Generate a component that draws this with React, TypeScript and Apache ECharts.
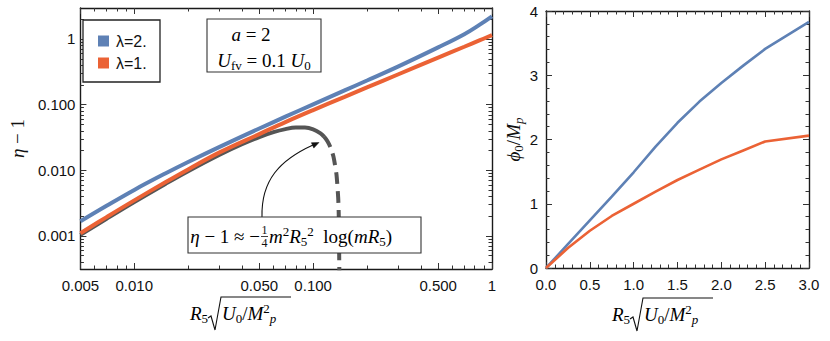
import React, { useEffect, useRef } from "react";
import * as echarts from "echarts";

// ---------- data ----------
const lamX = [0.005, 0.007, 0.01, 0.015, 0.02, 0.03, 0.05, 0.07, 0.1, 0.15, 0.2, 0.3, 0.5, 0.7, 0.85, 1];
const etaLam2 = [0.001675, 0.002884, 0.005035, 0.009023, 0.01339, 0.02277, 0.04335, 0.06556, 0.101, 0.1648, 0.2333, 0.3828, 0.7447, 1.184, 1.642, 2.218];
const etaLam1 = [0.001102, 0.001939, 0.003483, 0.006637, 0.01033, 0.01875, 0.03565, 0.05433, 0.08279, 0.1315, 0.1828, 0.2904, 0.52, 0.762, 0.9506, 1.143];

const approxX = [0.005, 0.007, 0.01, 0.015, 0.02, 0.03, 0.04, 0.05, 0.06, 0.07, 0.08, 0.09, 0.1, 0.11, 0.115];
const approxY = [0.00104, 0.00183, 0.00329, 0.00626, 0.0097, 0.0173, 0.025, 0.0321, 0.0381, 0.0424, 0.0447, 0.0447, 0.0421, 0.0366, 0.0326];
const approxDashX = [0.115, 0.12, 0.125, 0.13, 0.135, 0.138, 0.139, 0.1401];
const approxDashY = [0.0326, 0.028, 0.0224, 0.016, 0.0087, 0.0039, 0.0022, 0.0003];

const phiX = [0, 0.25, 0.5, 0.75, 1, 1.25, 1.5, 1.75, 2, 2.25, 2.5, 3];
const phiLam2 = [0, 0.37, 0.74, 1.11, 1.49, 1.89, 2.26, 2.59, 2.88, 3.15, 3.41, 3.83];
const phiLam1 = [0, 0.31, 0.58, 0.81, 1.0, 1.19, 1.37, 1.53, 1.69, 1.83, 1.97, 2.06];

const logXTicks = [0.005, 0.01, 0.05, 0.1, 0.5, 1];
const logXTickLabels = ["0.005", "0.010", "0.050", "0.100", "0.500", "1"];
const logXMinor = [0.006, 0.007, 0.008, 0.009, 0.02, 0.03, 0.04, 0.06, 0.07, 0.08, 0.09, 0.2, 0.3, 0.4, 0.6, 0.7, 0.8, 0.9];
const logYTicks = [0.001, 0.01, 0.1, 1];
const logYTickLabels = ["0.001", "0.010", "0.100", "1"];
const logYMinor = [0.0004, 0.0005, 0.0006, 0.0007, 0.0008, 0.0009, 0.002, 0.003, 0.004, 0.005, 0.006, 0.007, 0.008, 0.009,
  0.02, 0.03, 0.04, 0.05, 0.06, 0.07, 0.08, 0.09, 0.2, 0.3, 0.4, 0.5, 0.6, 0.7, 0.8, 0.9, 2];

const legendNames = ["λ=2.", "λ=1."];
const BLUE = "#5E81B5";
const ORANGE = "#EB6235";
const GRAY = "#555555";

const SANS = "'Liberation Sans', Arial, sans-serif";
const SERIF = "'Liberation Serif', 'DejaVu Serif', serif";

const FRAME = { color: "#1a1a1a", width: 1.4 };
const TICK = { color: "#333", width: 1 };

const mathRich = (size: number) => ({
  i: { fontFamily: SERIF, fontStyle: "italic", fontSize: size, lineHeight: size + 4, color: "#111" },
  n: { fontFamily: SERIF, fontSize: size, lineHeight: size + 4, color: "#111" },
  s: { fontFamily: SERIF, fontSize: Math.round(size * 0.68), lineHeight: Math.round(size * 0.68), verticalAlign: "bottom", color: "#111" },
  si: { fontFamily: SERIF, fontStyle: "italic", fontSize: Math.round(size * 0.68), lineHeight: Math.round(size * 0.68), verticalAlign: "bottom", color: "#111" },
  t: { fontFamily: SERIF, fontSize: Math.round(size * 0.68), lineHeight: Math.round(size * 0.68), verticalAlign: "top", color: "#111" },
});

function logFormatter(ticks: number[], labels: string[]) {
  return (v: number) => {
    const i = ticks.findIndex((t) => Math.abs(Math.log10(t) - Math.log10(v)) < 1e-6);
    return i >= 0 ? labels[i] : "";
  };
}

function logAxis(gridIndex: number, position: string, min: number, max: number, values: number[], len: number, showLine: boolean, extra: any = {}) {
  return {
    type: "log",
    logBase: 10,
    gridIndex,
    position,
    min,
    max,
    axisLine: { show: showLine, onZero: false, lineStyle: FRAME },
    axisTick: { show: true, inside: true, length: len, customValues: values, lineStyle: TICK },
    axisLabel: { show: false },
    splitLine: { show: false },
    ...extra,
  };
}

function linAxis(gridIndex: number, position: string, min: number, max: number, interval: number, extra: any = {}) {
  return {
    type: "value",
    gridIndex,
    position,
    min,
    max,
    interval,
    axisLine: { show: true, onZero: false, lineStyle: FRAME },
    axisTick: { show: true, inside: true, length: 6, lineStyle: TICK },
    minorTick: { show: true, splitNumber: 5, length: 3.5, lineStyle: TICK },
    axisLabel: { show: false },
    splitLine: { show: false },
    minorSplitLine: { show: false },
    ...extra,
  };
}

function xNameGraphic(x0: number, yc: number) {
  return [
    {
      type: "text", z: 50, x: x0, y: yc,
      style: { text: "{i|R}{s|5}", rich: mathRich(19), align: "left", verticalAlign: "middle" },
    },
    {
      type: "polyline", z: 50,
      shape: { points: [[x0 + 18, yc + 5], [x0 + 21, yc + 3], [x0 + 25, yc + 17], [x0 + 31, yc - 16], [x0 + 101, yc - 16]] },
      style: { stroke: "#111", lineWidth: 1.1, fill: null },
    },
    {
      type: "text", z: 50, x: x0 + 32, y: yc,
      style: { text: "{i|U}{s|0}{n|/}{i|M}{t|2}{si|p}", rich: mathRich(19), align: "left", verticalAlign: "middle" },
    },
  ];
}

export default function App() {
  const ref = useRef<HTMLDivElement>(null);

  useEffect(() => {
    if (!ref.current) return;
    const chart = echarts.init(ref.current, undefined, { renderer: "svg" });

    const yMinL = Math.pow(10, -3.503);
    const yMaxL = Math.pow(10, 0.472);

    const option: any = {
      animation: false,
      backgroundColor: "#ffffff",
      grid: [
        { left: 71, top: 8, width: 421, height: 261, show: false },
        { left: 546, top: 11, width: 263, height: 257, show: false },
      ],
      legend: {
        data: legendNames,
        orient: "vertical",
        left: 98,
        top: 33,
        itemWidth: 11,
        itemHeight: 11,
        itemGap: 6,
        icon: "rect",
        padding: 0,
        z: 10,
        selectedMode: false,
        textStyle: { fontSize: 16, fontFamily: SANS, color: "#111", padding: [0, 0, 0, 2] },
      },
      xAxis: [
        logAxis(0, "bottom", 0.005, 1, logXTicks, 6, true, {
          axisLabel: {
            show: true, customValues: logXTicks, formatter: logFormatter(logXTicks, logXTickLabels),
            fontSize: 15, fontFamily: SANS, color: "#111", margin: 9,
          },
        }),
        logAxis(0, "bottom", 0.005, 1, logXMinor, 3.5, false),
        logAxis(0, "top", 0.005, 1, logXTicks, 6, true),
        logAxis(0, "top", 0.005, 1, logXMinor, 3.5, false),
        linAxis(1, "bottom", 0, 3, 0.5, {
          axisLabel: { show: true, formatter: (v: number) => v.toFixed(1), fontSize: 15, fontFamily: SANS, color: "#111", margin: 9 },
        }),
        linAxis(1, "top", 0, 3, 0.5),
      ],
      yAxis: [
        logAxis(0, "left", yMinL, yMaxL, logYTicks, 6, true, {
          axisLabel: {
            show: true, customValues: logYTicks, formatter: logFormatter(logYTicks, logYTickLabels),
            fontSize: 15, fontFamily: SANS, color: "#111", margin: 5,
          },
          name: "{i|η}{n| − 1}",
          nameLocation: "middle",
          nameGap: 51,
          nameRotate: 90,
          nameTextStyle: { rich: mathRich(19) },
        }),
        logAxis(0, "left", yMinL, yMaxL, logYMinor, 3.5, false),
        logAxis(0, "right", yMinL, yMaxL, logYTicks, 6, true),
        logAxis(0, "right", yMinL, yMaxL, logYMinor, 3.5, false),
        linAxis(1, "left", 0, 4, 1, {
          axisLabel: { show: true, formatter: (v: number) => String(v), fontSize: 15, fontFamily: SANS, color: "#111", margin: 8 },
          name: "{i|ϕ}{s|0}{n|/}{i|M}{si|p}",
          nameLocation: "middle",
          nameGap: 21,
          nameRotate: 90,
          nameTextStyle: { rich: mathRich(19) },
        }),
        linAxis(1, "right", 0, 4, 1),
      ],
      series: [
        {
          type: "line", name: "approx", xAxisIndex: 0, yAxisIndex: 0, showSymbol: false, smooth: 0.4,
          data: approxX.map((x, i) => [x, approxY[i]]),
          lineStyle: { color: GRAY, width: 4 }, itemStyle: { color: GRAY }, z: 2,
        },
        {
          type: "line", name: "approxDash", xAxisIndex: 0, yAxisIndex: 0, showSymbol: false, smooth: 0.2,
          data: approxDashX.map((x, i) => [x, approxDashY[i]]),
          lineStyle: { color: GRAY, width: 4, type: [12, 7] }, itemStyle: { color: GRAY }, z: 2,
        },
        {
          type: "line", name: legendNames[0], xAxisIndex: 0, yAxisIndex: 0, showSymbol: false, smooth: 0.4,
          data: lamX.map((x, i) => [x, etaLam2[i]]),
          lineStyle: { color: BLUE, width: 4 }, itemStyle: { color: BLUE }, z: 3,
        },
        {
          type: "line", name: legendNames[1], xAxisIndex: 0, yAxisIndex: 0, showSymbol: false, smooth: 0.4,
          data: lamX.map((x, i) => [x, etaLam1[i]]),
          lineStyle: { color: ORANGE, width: 4 }, itemStyle: { color: ORANGE }, z: 3,
        },
        {
          type: "line", name: legendNames[0], xAxisIndex: 4, yAxisIndex: 4, showSymbol: false, smooth: false,
          data: phiX.map((x, i) => [x, phiLam2[i]]),
          lineStyle: { color: BLUE, width: 2.6 }, itemStyle: { color: BLUE }, z: 3,
        },
        {
          type: "line", name: legendNames[1], xAxisIndex: 4, yAxisIndex: 4, showSymbol: false, smooth: false,
          data: phiX.map((x, i) => [x, phiLam1[i]]),
          lineStyle: { color: ORANGE, width: 2.6 }, itemStyle: { color: ORANGE }, z: 3,
        },
      ],
      graphic: [
        // legend frame
        { type: "rect", z: 1, shape: { x: 83, y: 20, width: 77, height: 62 }, style: { fill: "#fff", stroke: "#222", lineWidth: 1.3 } },
        // parameter box
        { type: "rect", z: 1, shape: { x: 207, y: 19, width: 114, height: 53 }, style: { fill: "#fff", stroke: "#333", lineWidth: 1.1 } },
        {
          type: "text", z: 60, x: 251, y: 34,
          style: { text: "{i|a}{n| = 2}", rich: mathRich(19), align: "center", verticalAlign: "middle" },
        },
        {
          type: "text", z: 60, x: 264, y: 60,
          style: { text: "{i|U}{s|fv}{n| = 0.1 }{i|U}{s|0}", rich: mathRich(19), align: "center", verticalAlign: "middle" },
        },
        // arrow
        {
          type: "bezierCurve", z: 60,
          shape: { x1: 262, y1: 217, cpx1: 261, cpy1: 180, cpx2: 280, cpy2: 160, x2: 313, y2: 145 },
          style: { stroke: "#111", lineWidth: 1.1, fill: null },
        },
        {
          type: "polygon", z: 60,
          shape: { points: [[319, 142.5], [313.8, 148.1], [311.4, 142.7]] },
          style: { fill: "#111", stroke: "#111", lineWidth: 0.5 },
        },
        // formula box
        { type: "rect", z: 100, shape: { x: 188, y: 217, width: 233, height: 36 }, style: { fill: "#fff", stroke: "#333", lineWidth: 1.1 } },
        {
          type: "text", z: 101, x: 260, y: 236,
          style: { text: "{i|η}{n| − 1 ≈ −}", rich: mathRich(19), align: "right", verticalAlign: "middle" },
        },
        { type: "text", z: 101, x: 264.5, y: 229.5, style: { text: "1", fontFamily: SERIF, fontSize: 12, fill: "#111", align: "center", verticalAlign: "middle" } },
        { type: "text", z: 101, x: 264.5, y: 243, style: { text: "4", fontFamily: SERIF, fontSize: 12, fill: "#111", align: "center", verticalAlign: "middle" } },
        { type: "line", z: 101, shape: { x1: 261, y1: 236.5, x2: 268, y2: 236.5 }, style: { stroke: "#111", lineWidth: 0.8 } },
        {
          type: "text", z: 101, x: 269, y: 236,
          style: { text: "{i|m}{t|2}{i|R}{s|5}{t|2}{n|  log(}{i|mR}{s|5}{n|)}", rich: mathRich(19), align: "left", verticalAlign: "middle" },
        },
        // x axis titles
        ...xNameGraphic(190, 313),
        ...xNameGraphic(612, 314),
      ],
    };

    chart.setOption(option);
    return () => chart.dispose();
  }, []);

  return <div ref={ref} style={{ position: "absolute", left: 0, top: 0, width: 830, height: 341 }} />;
}
